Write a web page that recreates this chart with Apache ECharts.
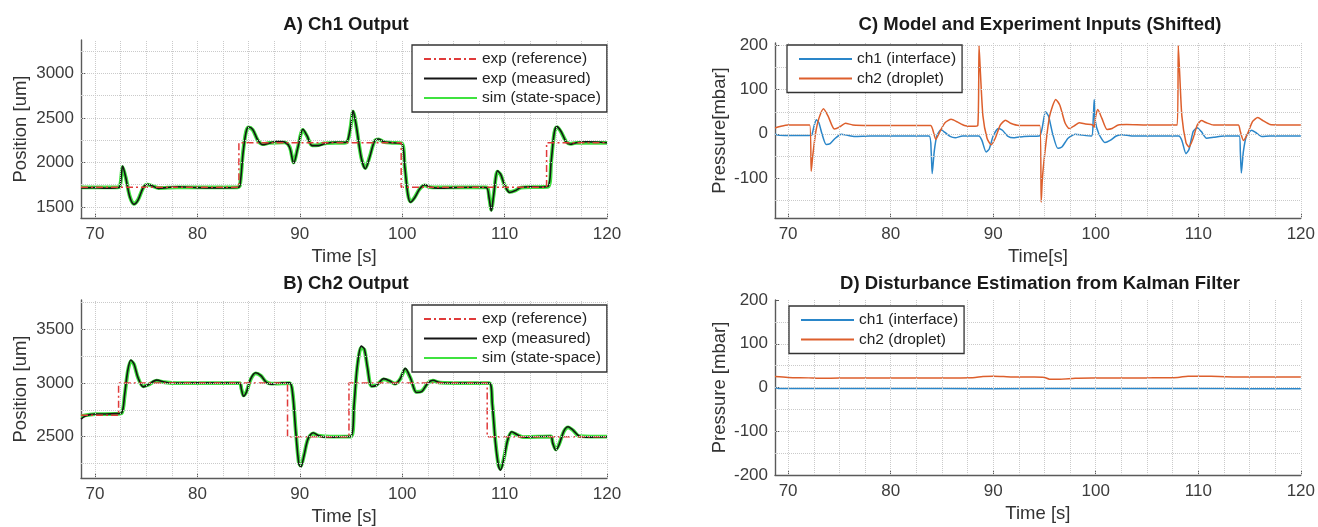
<!DOCTYPE html>
<html><head><meta charset="utf-8">
<script src="https://cdn.jsdelivr.net/npm/echarts@6/dist/echarts.min.js"></script>
<style>html,body{margin:0;padding:0;background:#fff}#c{width:1318px;height:527px}</style>
</head><body><div id="c"></div>
<script>
// ---------- tick labels / grid values ----------
const xTicks = [70, 80, 90, 100, 110, 120];
const xGrid = [70,72.5,75,77.5,80,82.5,85,87.5,90,92.5,95,97.5,100,102.5,105,107.5,110,112.5,115,117.5,120];
const yTicksA = [1500, 2000, 2500, 3000];
const yGridA = [1500,1750,2000,2250,2500,2750,3000,3250];
const yTicksB = [2500, 3000, 3500];
const yGridB = [2250,2500,2750,3000,3250,3500,3750];
const yTicksC = [-100, 0, 100, 200];
const yGridC = [-150,-100,-50,0,50,100,150,200];
const yTicksD = [-200, -100, 0, 100, 200];
const yGridD = [-150,-100,-50,0,50,100,150];

// ---------- A) Ch1 output ----------
const A_reference = [[68.63,1720],[84.05,2220],[99.9,1720],[114.1,2220],[120,2220]];
const A_measured = [[68.63,1712],[70,1716],[71,1710],[72,1714],[72.4,1722],[72.7,1960],[73.0,1830],[73.4,1610],[73.8,1528],[74.2,1575],[74.7,1715],[75.1,1755],[75.6,1735],[76.2,1708],[77,1716],[78,1726],[80,1716],[82,1714],[83.9,1718],[84.15,1740],[84.45,2100],[84.75,2340],[85.0,2398],[85.4,2370],[85.9,2250],[86.4,2198],[87,2215],[87.8,2238],[88.5,2228],[89.0,2170],[89.4,1990],[89.8,2160],[90.3,2372],[90.7,2300],[91.2,2188],[91.8,2188],[92.5,2212],[93.5,2226],[94.5,2224],[94.9,2360],[95.2,2580],[95.5,2420],[96.0,2050],[96.4,1928],[96.8,2050],[97.3,2240],[97.7,2262],[98.2,2232],[99,2220],[99.95,2212],[100.25,1950],[100.55,1640],[100.8,1552],[101.2,1600],[101.7,1700],[102.2,1748],[102.7,1722],[103.5,1710],[105,1716],[107,1720],[108.2,1718],[108.5,1590],[108.7,1455],[108.95,1650],[109.3,1905],[109.6,1870],[110.0,1745],[110.5,1662],[111.0,1680],[111.6,1718],[112.5,1726],[113.5,1724],[114.25,1730],[114.55,2010],[114.85,2335],[115.1,2402],[115.5,2350],[116.0,2232],[116.4,2203],[117,2220],[118,2232],[120,2220]];
const A_simulated = [[68.63,1718],[70,1718],[72,1718],[72.4,1725],[72.7,1945],[73.0,1830],[73.4,1615],[73.8,1535],[74.2,1580],[74.7,1712],[75.1,1750],[75.6,1735],[76.2,1712],[78,1720],[80,1720],[83.9,1720],[84.15,1742],[84.45,2110],[84.75,2345],[85.0,2392],[85.4,2365],[85.9,2248],[86.4,2205],[87,2218],[88.5,2225],[89.0,2175],[89.4,2000],[89.8,2165],[90.3,2365],[90.7,2295],[91.2,2192],[91.8,2195],[92.5,2215],[94.5,2222],[94.9,2360],[95.2,2570],[95.5,2415],[96.0,2055],[96.4,1935],[96.8,2055],[97.3,2238],[97.7,2258],[98.2,2230],[99,2220],[99.95,2215],[100.25,1955],[100.55,1645],[100.8,1560],[101.2,1605],[101.7,1700],[102.2,1742],[102.7,1722],[104,1718],[108.2,1720],[108.5,1595],[108.7,1470],[108.95,1655],[109.3,1895],[109.6,1865],[110.0,1745],[110.5,1668],[111.0,1682],[111.6,1716],[113,1722],[114.25,1728],[114.55,2015],[114.85,2330],[115.1,2395],[115.5,2345],[116.0,2235],[116.4,2208],[117,2220],[120,2220]];

// ---------- B) Ch2 output ----------
const B_reference = [[68.63,2700],[72.3,3000],[88.8,2500],[94.8,3000],[108.3,2500],[120,2500]];
const B_measured = [[68.63,2665],[69,2690],[69.5,2706],[70,2712],[71,2712],[72.0,2715],[72.6,2722],[72.9,2900],[73.2,3120],[73.5,3215],[73.8,3180],[74.2,3050],[74.7,2965],[75.2,2985],[76.0,3028],[76.8,3010],[77.5,3000],[80,3002],[84.1,3000],[84.3,2940],[84.5,2878],[84.8,2920],[85.2,3040],[85.7,3096],[86.2,3070],[86.7,3010],[87.2,2990],[87.8,3000],[89.0,3002],[89.3,2900],[89.6,2550],[89.9,2250],[90.1,2218],[90.4,2320],[90.8,2480],[91.3,2537],[91.8,2512],[92.5,2495],[94,2500],[95.0,2505],[95.3,2800],[95.6,3150],[96.0,3345],[96.3,3320],[96.6,3150],[97.0,2968],[97.5,2980],[98.2,3042],[98.8,3020],[99.3,2990],[99.8,3040],[100.3,3137],[100.8,3050],[101.4,2912],[101.9,2920],[102.5,3000],[103.0,3027],[103.7,3005],[105,3000],[108.5,3000],[108.8,2800],[109.1,2450],[109.4,2228],[109.6,2188],[109.9,2280],[110.3,2470],[110.7,2547],[111.2,2520],[111.8,2495],[113,2500],[114.5,2505],[114.7,2440],[115.0,2375],[115.3,2420],[115.8,2555],[116.2,2593],[116.7,2560],[117.3,2505],[118,2496],[120,2500]];
const B_simulated = [[68.63,2690],[69.5,2705],[70,2710],[72.0,2712],[72.6,2720],[72.9,2890],[73.2,3110],[73.5,3205],[73.8,3175],[74.2,3050],[74.7,2970],[75.2,2985],[76.0,3022],[76.8,3008],[78,3000],[84.1,3000],[84.3,2945],[84.5,2885],[84.8,2922],[85.2,3035],[85.7,3090],[86.2,3068],[86.7,3012],[87.2,2995],[89.0,3000],[89.3,2905],[89.6,2560],[89.9,2260],[90.1,2228],[90.4,2325],[90.8,2478],[91.3,2530],[91.8,2510],[93,2500],[95.0,2502],[95.3,2790],[95.6,3140],[96.0,3330],[96.3,3312],[96.6,3150],[97.0,2975],[97.5,2985],[98.2,3035],[98.8,3018],[99.3,2995],[99.8,3038],[100.3,3128],[100.8,3048],[101.4,2918],[101.9,2925],[102.5,3000],[103.0,3022],[103.7,3004],[106,3000],[108.5,3000],[108.8,2805],[109.1,2460],[109.4,2238],[109.6,2200],[109.9,2285],[110.3,2468],[110.7,2540],[111.2,2518],[111.8,2497],[114.5,2502],[114.7,2445],[115.0,2382],[115.3,2425],[115.8,2552],[116.2,2588],[116.7,2558],[117.3,2505],[120,2500]];

// ---------- C) Model and experiment inputs ----------
const C_ch1 = [[68.72,0],[69.0,-3],[70,-4],[72.0,-4],[72.3,-3],[72.5,15],[72.75,32],[73.0,25],[73.3,0],[73.7,-24],[74.1,-22],[74.6,-10],[75.2,-1],[75.7,-3],[76.5,-6],[78,-5],[83.75,-5],[83.95,-40],[84.05,-90],[84.25,-40],[84.5,-5],[84.9,9],[85.3,3],[85.8,-6],[86.3,-9],[87,-5],[88.6,-5],[88.9,-15],[89.3,-41],[89.6,-35],[90.0,-5],[90.5,12],[90.9,8],[91.4,-5],[92,-9],[93,-6],[94.5,-5],[94.75,10],[95.1,50],[95.4,40],[95.8,0],[96.3,-33],[96.7,-30],[97.3,-10],[98,-1],[98.7,-3],[99.6,-5],[99.75,30],[99.85,78],[99.95,30],[100.3,0],[100.9,-20],[101.4,-15],[102,-5],[102.6,-2],[103.5,-5],[108.1,-5],[108.4,-15],[108.8,-45],[109.1,-35],[109.5,5],[109.9,14],[110.3,5],[110.8,-10],[111.5,-8],[112.5,-5],[114.0,-5],[114.1,-40],[114.2,-89],[114.4,-40],[114.7,-5],[115.2,8],[115.6,3],[116.2,-6],[117,-5],[120,-5]];
const C_ch2 = [[68.72,13],[69.3,17],[70,20],[72.1,20],[72.25,-85],[72.4,-50],[72.7,5],[73.0,35],[73.45,57],[73.9,40],[74.5,11],[75.0,15],[75.6,24],[76.3,20],[78,19],[83.9,19],[84.1,10],[84.4,-13],[84.8,5],[85.3,25],[85.9,33],[86.5,27],[87.2,19],[88.0,17],[88.5,19],[88.62,200],[88.75,140],[89.0,40],[89.4,-10],[89.8,-25],[90.2,-10],[90.7,20],[91.2,31],[91.7,24],[92.5,19],[94.55,19],[94.68,-155],[94.8,-100],[95.1,-30],[95.5,40],[96.1,78],[96.5,65],[97.0,25],[97.4,12],[97.9,18],[98.4,25],[99,22],[99.7,20],[99.85,15],[100.0,40],[100.2,55],[100.6,35],[101.1,10],[101.6,12],[102.2,20],[103,21],[105,20],[107.95,20],[108.05,200],[108.18,140],[108.4,40],[108.8,-20],[109.1,-30],[109.5,-10],[109.9,20],[110.3,30],[110.8,25],[111.5,20],[113.9,20],[114.1,5],[114.4,-15],[114.8,0],[115.3,28],[115.8,37],[116.3,30],[117,21],[118,20],[120,20]];

// ---------- D) Disturbance estimation ----------
const D_ch1 = [[68.72,0],[69,-2],[72,-2],[76,-2.5],[80,-2],[85,-2.5],[90,-3],[95,-2.5],[100,-2],[105,-2.5],[110,-2],[115,-3],[120,-3]];
const D_ch2 = [[68.72,25],[70,23],[72,22],[73,21],[75,21.5],[80,22],[85,22],[88,22.5],[89,25],[90,26],[91,25],[92,24],[94,24],[95,23],[95.5,19],[96.5,19],[98,21],[100,21.5],[105,22],[108,23],[109,26],[110,26],[112,25],[115,24],[120,24]];

const FONT = '"Liberation Sans", Arial, Helvetica, sans-serif';
const TXT = '#3c3c3c';
const AX = '#5a5a5a';
const RED = '#e03a3a', BLK = '#151515', GRN = '#3fe23f', BLUE = '#2a86c9', ORNG = '#dd5f2c';
const plain = v => String(v);

function xAxisCfg(i, min, name) {
  return {
    gridIndex: i, type: 'value', min: min, max: 120,
    axisLine: { show: true, onZero: false, lineStyle: { color: AX, width: 1.4 } },
    axisTick: { show: true, inside: true, length: 4, customValues: xTicks, lineStyle: { color: AX } },
    axisLabel: { customValues: xTicks, formatter: plain, fontSize: 17, color: TXT, margin: 8, fontFamily: FONT },
    splitLine: { show: false },
    name: name, nameLocation: 'middle', nameGap: 29,
    nameTextStyle: { fontSize: 18.5, color: '#333', fontFamily: FONT }
  };
}
function yAxisCfg(i, min, max, ticks, name, gap) {
  return {
    gridIndex: i, type: 'value', min: min, max: max,
    axisLine: { show: true, onZero: false, lineStyle: { color: AX, width: 1.4 } },
    axisTick: { show: true, inside: true, length: 4, customValues: ticks, lineStyle: { color: AX } },
    axisLabel: { customValues: ticks, formatter: plain, fontSize: 17, color: TXT, margin: 7, fontFamily: FONT },
    splitLine: { show: false },
    name: name, nameLocation: 'middle', nameGap: gap,
    nameTextStyle: { fontSize: 18.5, color: '#333', fontFamily: FONT }
  };
}
function gridSeries(i, xs, ys) {
  return {
    type: 'line', name: '_grid' + i, data: [], xAxisIndex: i, yAxisIndex: i, silent: true, z: 0,
    markLine: {
      silent: true, symbol: 'none', label: { show: false }, animation: false,
      lineStyle: { color: '#cacaca', type: 'dotted', width: 1 },
      emphasis: { disabled: true },
      data: xs.map(v => ({ xAxis: v })).concat(ys.map(v => ({ yAxis: v })))
    }
  };
}
function lineSeries(i, name, data, color, width, opts) {
  return Object.assign({
    type: 'line', name: name, data: data, xAxisIndex: i, yAxisIndex: i,
    symbol: 'none', showSymbol: false, silent: true,
    lineStyle: { color: color, width: width }, itemStyle: { color: color },
    emphasis: { disabled: true }
  }, opts || {});
}
function legendCfg(left, top, names) {
  return {
    orient: 'vertical', left: left, top: top, data: names,
    itemWidth: 53, itemHeight: 14, itemGap: 3.5,
    padding: [6, 6, 6, 11],
    borderColor: '#333', borderWidth: 1.3, backgroundColor: '#fff',
    itemStyle: { opacity: 0 },
    textStyle: { fontSize: 15.5, color: '#222', fontFamily: FONT },
    selectedMode: false, z: 10
  };
}
function titleCfg(text, cx, top) {
  return { text: text, left: cx, top: top, textAlign: 'center', padding: 0,
    textStyle: { fontSize: 18.5, fontWeight: 'bold', color: '#1a1a1a', fontFamily: FONT } };
}

const dashDot = [7, 3, 2, 3];
const refNames = ['exp (reference)', 'exp (measured)', 'sim (state-space)'];
const chNames = ['ch1 (interface)', 'ch2 (droplet)'];

const option = {
  animation: false,
  backgroundColor: '#fff',
  textStyle: { fontFamily: FONT },
  title: [
    titleCfg('A) Ch1 Output', 346, 15),
    titleCfg('B) Ch2 Output', 346, 274),
    titleCfg('C) Model and Experiment Inputs (Shifted)', 1040, 15),
    titleCfg('D) Disturbance Estimation from Kalman Filter', 1040, 274)
  ],
  grid: [
    { left: 81, top: 40, width: 526, height: 178 },
    { left: 81, top: 300, width: 526, height: 178 },
    { left: 775, top: 43, width: 532, height: 175 },
    { left: 775, top: 300, width: 532, height: 175 }
  ],
  xAxis: [
    xAxisCfg(0, 68.63, 'Time [s]'),
    xAxisCfg(1, 68.63, 'Time [s]'),
    xAxisCfg(2, 68.72, 'Time[s]'),
    xAxisCfg(3, 68.72, 'Time [s]')
  ],
  yAxis: [
    yAxisCfg(0, 1375, 3375, yTicksA, 'Position [um]', 51),
    yAxisCfg(1, 2115, 3775, yTicksB, 'Position [um]', 51),
    yAxisCfg(2, -191, 206, yTicksC, 'Pressure[mbar]', 46),
    yAxisCfg(3, -200, 200, yTicksD, 'Pressure [mbar]', 46)
  ],
  legend: [
    legendCfg(412, 45, refNames),
    legendCfg(412, 305, refNames),
    legendCfg(787, 45, chNames),
    legendCfg(789, 306, chNames)
  ],
  series: [
    gridSeries(0, xGrid, yGridA),
    gridSeries(1, xGrid, yGridB),
    gridSeries(2, xGrid, yGridC),
    gridSeries(3, xGrid, yGridD),
    lineSeries(0, 'sim (state-space)', A_simulated, GRN, 3.8, { smooth: 0.3, z: 2 }),
    lineSeries(0, 'exp (measured)', A_measured, BLK, 1.6, { smooth: 0.3, z: 3 }),
    lineSeries(0, 'exp (reference)', A_reference, RED, 1.5, { step: 'end', z: 4, lineStyle: { color: RED, width: 1.5, type: dashDot } }),
    lineSeries(1, 'sim (state-space)', B_simulated, GRN, 3.8, { smooth: 0.3, z: 2 }),
    lineSeries(1, 'exp (measured)', B_measured, BLK, 1.6, { smooth: 0.3, z: 3 }),
    lineSeries(1, 'exp (reference)', B_reference, RED, 1.5, { step: 'end', z: 4, lineStyle: { color: RED, width: 1.5, type: dashDot } }),
    lineSeries(2, 'ch1 (interface)', C_ch1, BLUE, 1.5, { smooth: 0.2, z: 3 }),
    lineSeries(2, 'ch2 (droplet)', C_ch2, ORNG, 1.5, { smooth: 0.2, z: 3 }),
    lineSeries(3, 'ch1 (interface)', D_ch1, BLUE, 1.5, { z: 3 }),
    lineSeries(3, 'ch2 (droplet)', D_ch2, ORNG, 1.5, { smooth: 0.3, z: 3 })
  ]
};
const chart = echarts.init(document.getElementById('c'), null, { renderer: 'canvas' });
chart.setOption(option);
</script>
</body></html>
